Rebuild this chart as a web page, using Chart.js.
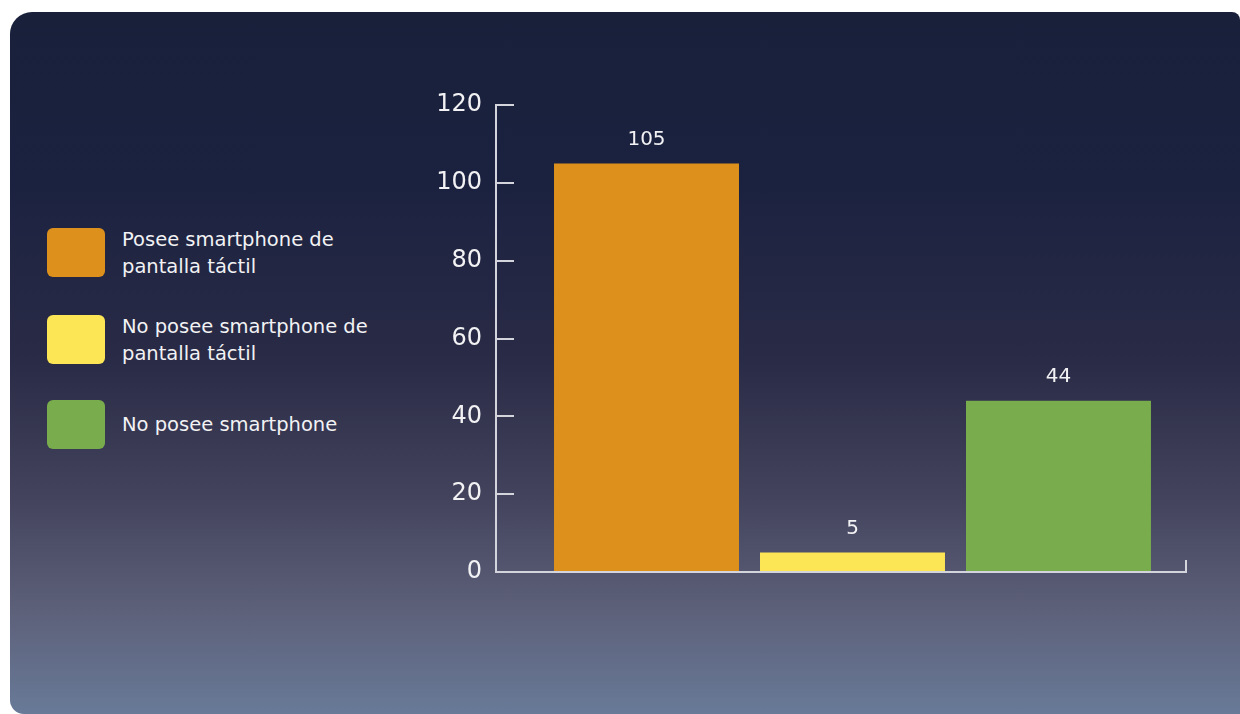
<!DOCTYPE html>
<html lang="es">
<head>
<meta charset="utf-8">
<title>Smartphone de pantalla táctil</title>
<script src="https://cdn.jsdelivr.net/npm/chart.js@4/dist/chart.umd.min.js"></script>
<style>
    html, body {
        margin: 0;
        width: 1240px;
        height: 714px;
        background: #ffffff;
        overflow: hidden;
        font-family: 'DejaVu Sans', sans-serif;
    }
    #panel {
        position: absolute;
        left: 10px;
        top: 12px;
        width: 1230px;
        height: 702px;
        border-radius: 22px 8px 0 14px;
        background: linear-gradient(to bottom, #18203a 0%, #1b2240 25%, #2a2b46 50%, #44445e 70%, #5d6079 85%, #687a98 100%);
    }
    #chart {
        position: absolute;
        left: 0;
        top: 0;
    }
    .leyenda {
        position: absolute;
        left: 47px;
        display: flex;
        align-items: center;
        height: 49px;
    }
    .leyenda .caja {
        width: 58px;
        height: 49px;
        border-radius: 6px;
        flex: none;
    }
    .leyenda .texto {
        margin-left: 17px;
        color: #f2f2f4;
        font-size: 19.5px;
        line-height: 27px;
        white-space: nowrap;
    }
</style>
</head>
<body>
<div id="panel"></div>
<div id="leyendas"></div>
<canvas id="chart" width="1240" height="714"></canvas>
<script>
// Categorías (cada línea del texto de la leyenda por separado).
const CATEGORIAS = [
    ['Posee smartphone de', 'pantalla táctil'],
    ['No posee smartphone de', 'pantalla táctil'],
    ['No posee smartphone']
];
// Cantidad de personas por categoría.
const VALORES = [105, 5, 44];
// Colores de cada barra.
const COLORES = ['#dd911c', '#fce655', '#78ac4c'];
// Etiquetas del eje y.
const TICKS_Y = [0, 20, 40, 60, 80, 100, 120];
// Posición vertical de cada caja de la leyenda.
const LEYENDA_TOP = [228, 315, 400];

const COLOR_TEXTO = '#f2f2f4';
const COLOR_EJE = '#d4d4dc';

/*
*   Se arma la leyenda a partir de las categorías y colores.
*/
const leyendas = document.getElementById('leyendas');
CATEGORIAS.forEach((lineas, i) => {
    const item = document.createElement('div');
    item.className = 'leyenda';
    item.style.top = LEYENDA_TOP[i] + 'px';
    const caja = document.createElement('div');
    caja.className = 'caja';
    caja.style.background = COLORES[i];
    const texto = document.createElement('div');
    texto.className = 'texto';
    texto.innerHTML = lineas.join('<br>');
    item.appendChild(caja);
    item.appendChild(texto);
    leyendas.appendChild(item);
});

/*
*   Plugin para escribir el valor encima de cada barra.
*/
const etiquetasBarras = {
    id: 'etiquetasBarras',
    afterDatasetsDraw(chart) {
        const ctx = chart.ctx;
        const meta = chart.getDatasetMeta(0);
        ctx.save();
        ctx.font = '20px "DejaVu Sans"';
        ctx.fillStyle = COLOR_TEXTO;
        ctx.textAlign = 'center';
        ctx.textBaseline = 'middle';
        meta.data.forEach((bar, i) => {
            ctx.fillText(String(VALORES[i]), bar.x, bar.y - 24);
        });
        ctx.restore();
    }
};

const context = document.getElementById('chart').getContext('2d');
const chart = new Chart(context, {
    type: 'bar',
    data: {
        datasets: [{
            data: VALORES.map((v, i) => ({ x: i, y: v })),
            backgroundColor: COLORES,
            borderWidth: 0,
            categoryPercentage: 1,
            barPercentage: 0.898
        }]
    },
    options: {
        responsive: false,
        animation: false,
        layout: {
            padding: { left: 400, top: 105, right: 54, bottom: 142 }
        },
        plugins: {
            legend: { display: false },
            tooltip: { enabled: false }
        },
        scales: {
            x: {
                type: 'linear',
                offset: false,
                min: -0.7306,
                max: 2.619,
                afterBuildTicks: (scale) => {
                    scale.ticks = [{ value: scale.max }];
                },
                afterFit: (scale) => {
                    scale.height = 0;
                },
                ticks: { display: false },
                grid: {
                    offset: false,
                    drawOnChartArea: false,
                    drawTicks: true,
                    tickLength: -12,
                    color: COLOR_EJE,
                    lineWidth: 2
                },
                border: { display: true, color: COLOR_EJE, width: 2 }
            },
            y: {
                min: 0,
                max: 120,
                afterBuildTicks: (scale) => {
                    scale.ticks = TICKS_Y.map((v) => ({ value: v }));
                },
                afterFit: (scale) => {
                    scale.width = 96;
                },
                ticks: {
                    color: COLOR_TEXTO,
                    padding: 32,
                    font: { family: 'DejaVu Sans', size: 24 }
                },
                grid: {
                    drawOnChartArea: false,
                    drawTicks: true,
                    tickLength: -18,
                    color: COLOR_EJE,
                    lineWidth: 2
                },
                border: { display: true, color: COLOR_EJE, width: 2 }
            }
        }
    },
    plugins: [etiquetasBarras]
});
</script>
</body>
</html>
